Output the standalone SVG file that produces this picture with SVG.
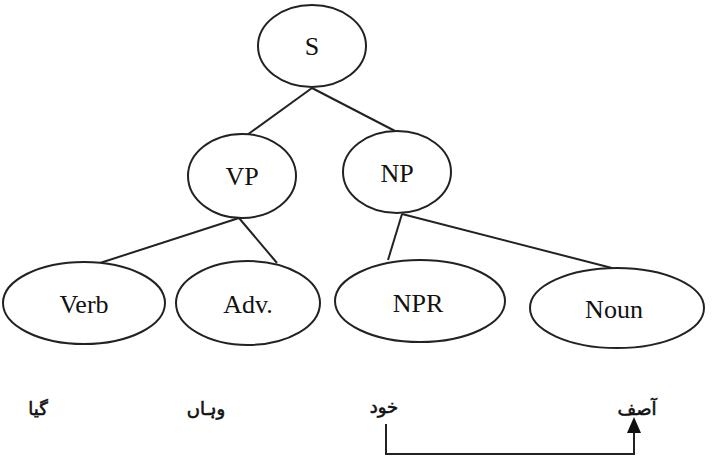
<svg xmlns="http://www.w3.org/2000/svg" width="717" height="459" viewBox="0 0 717 459">
<style>
.node ellipse{fill:#fff;stroke:#222;stroke-width:2}
.node text{font-family:"Liberation Serif","Times New Roman",serif;font-size:26px;fill:#111;text-anchor:middle}
.edges line,.edges .wire{stroke:#222;stroke-width:2;fill:none}
.edges .head{fill:#111;stroke:none}
.ur{font-family:"DejaVu Sans",sans-serif;font-size:18px;fill:#111;stroke:#111;stroke-width:0.6;text-anchor:middle}
</style>
<rect width="717" height="459" fill="#fff"/>
<g class="edges">
<line x1="312" y1="88" x2="247" y2="135"/>
<line x1="312" y1="88" x2="395" y2="131"/>
<line x1="239" y1="218" x2="100" y2="263"/>
<line x1="239" y1="218" x2="277" y2="263"/>
<line x1="402" y1="214" x2="388" y2="260"/>
<line x1="402" y1="214" x2="612" y2="268"/>
<path class="wire" d="M386,424 V454 H634 V432"/>
<path class="head" d="M634,417 L641,433 L627,433 Z"/>
</g>
<g id="S" class="node"><ellipse cx="312" cy="46" rx="54" ry="41"/><text x="312" y="55">S</text></g>
<g id="VP" class="node"><ellipse cx="242" cy="176" rx="54" ry="42"/><text x="242" y="185">VP</text></g>
<g id="NP" class="node"><ellipse cx="397" cy="172" rx="54" ry="41"/><text x="397" y="182">NP</text></g>
<g id="Verb" class="node"><ellipse cx="84" cy="303" rx="81" ry="41"/><text x="84" y="313">Verb</text></g>
<g id="Adv" class="node"><ellipse cx="248" cy="303" rx="72" ry="42"/><text x="248" y="313">Adv.</text></g>
<g id="NPR" class="node"><ellipse cx="420" cy="301" rx="85" ry="41"/><text x="418" y="312">NPR</text></g>
<g id="Noun" class="node"><ellipse cx="617" cy="308" rx="87" ry="40"/><text x="614" y="318">Noun</text></g>
<g id="words">
<text class="ur" x="38" y="415" direction="rtl">گیا</text>
<text class="ur" x="206" y="415" direction="rtl">وہاں</text>
<text class="ur" x="384" y="413" direction="rtl">خود</text>
<text class="ur" x="637" y="415" direction="rtl">آصف</text>
</g>
</svg>
